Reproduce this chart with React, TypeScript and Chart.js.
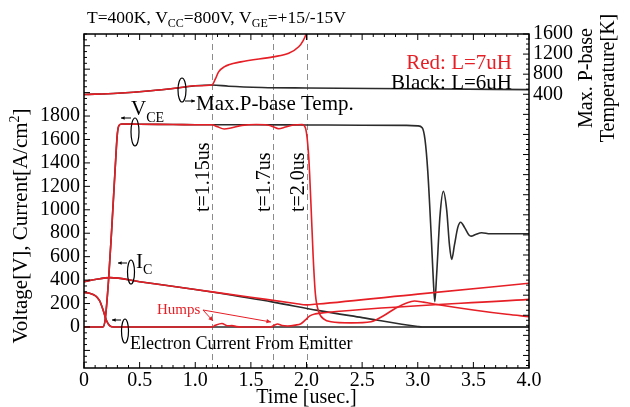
import React, { useEffect, useRef } from "react";
import { Chart, registerables } from "chart.js";

Chart.register(...registerables);

const SERIF = '"Liberation Serif", "Times New Roman", Times, serif';
const RED = "#e61e25";
const BLACK = "#2b2b2b";

// axis ticks
const xTicks = [0, 0.5, 1.0, 1.5, 2.0, 2.5, 3.0, 3.5, 4.0];
const leftTicks = [0, 200, 400, 600, 800, 1000, 1200, 1400, 1600, 1800];
const rightTicks = [400, 800, 1200, 1600];
const markerTimes = [1.15, 1.7, 2.0];
const markerLabels = ["t=1.15us", "t=1.7us", "t=2.0us"];

// Red (L=7uH) collector-emitter voltage
const tRedVce = [0, 0.17, 0.19, 0.22, 0.25, 0.28, 0.3, 0.315, 0.34, 0.5, 0.8, 1.0, 1.15, 1.2, 1.26, 1.32, 1.42, 1.55, 1.65, 1.7, 1.75, 1.81, 1.88, 1.96, 1.99, 2.02, 2.04, 2.06, 2.08, 2.11, 2.16, 2.22, 2.4, 2.58, 2.7, 2.8, 2.9, 2.97, 3.05, 3.2, 3.5, 3.8, 4.0];
const redVce = [0, 0, 60, 390, 850, 1350, 1650, 1720, 1732, 1730, 1728, 1726, 1725, 1708, 1690, 1698, 1720, 1728, 1724, 1708, 1692, 1706, 1724, 1728, 1700, 1450, 1050, 600, 280, 130, 65, 45, 35, 45, 100, 160, 205, 222, 212, 188, 145, 108, 88];

// Black (L=6uH) collector-emitter voltage
const tBlkVce = [0, 0.17, 0.19, 0.22, 0.25, 0.28, 0.3, 0.315, 0.34, 0.5, 0.8, 1.0, 1.15, 1.5, 2.0, 2.5, 2.9, 3.0, 3.04, 3.065, 3.09, 3.12, 3.14, 3.153, 3.17, 3.2, 3.23, 3.26, 3.285, 3.305, 3.33, 3.36, 3.386, 3.42, 3.46, 3.48, 3.52, 3.575, 3.65, 4.0];
const blkVce = [0, 0, 60, 390, 850, 1350, 1650, 1720, 1732, 1730, 1728, 1726, 1725, 1726, 1724, 1722, 1720, 1716, 1700, 1600, 1330, 800, 400, 216, 450, 950, 1157, 1000, 700, 577, 700, 850, 894, 850, 785, 775, 790, 804, 795, 795];

// Collector current
const tRedIc = [0, 0.1, 0.235, 0.5, 1.0, 1.5, 1.9, 2.0, 2.1, 3.0, 4.0];
const redIc = [387, 405, 421, 386, 320, 254, 201, 189, 196, 280, 373];
const tBlkIc = [0, 0.1, 0.235, 0.5, 1.0, 1.15, 1.7, 2.1, 2.5, 3.0, 3.04, 4.0];
const blkIc = [387, 405, 421, 386, 320, 298, 212, 142, 80, 4, 0, 0];

// Electron current from emitter
const tRedEc = [0, 0.05, 0.1, 0.14, 0.17, 0.2, 0.23, 0.27, 1.15, 1.18, 1.24, 1.29, 1.33, 1.37, 1.42, 1.68, 1.71, 1.74, 1.78, 1.83, 1.9, 1.95, 1.99, 2.03, 2.08, 2.16, 4.0];
const redEc = [295, 288, 268, 225, 150, 60, 12, 0, 0, 14, 30, 10, 12, 3, 0, 0, 14, 26, 12, 8, 16, 28, 60, 95, 112, 122, 236];
const tBlkEc = [0, 0.05, 0.1, 0.14, 0.17, 0.2, 0.23, 0.27, 4.0];
const blkEc = [295, 288, 268, 225, 150, 60, 12, 0, 0];

// Max. P-base temperature [K]
const tRedTemp = [0, 0.3, 0.6, 0.87, 1.0, 1.15, 1.18, 1.21, 1.26, 1.41, 1.7, 1.84, 1.93, 1.97, 2.0, 2.02];
const redTemp = [395, 420, 470, 535, 570, 585, 700, 845, 945, 1045, 1145, 1215, 1345, 1470, 1620, 1800];
const tBlkTemp = [0, 0.3, 0.6, 0.87, 1.0, 1.15, 1.3, 1.6, 2.0, 3.0, 4.0];
const blkTemp = [395, 420, 470, 535, 570, 585, 560, 535, 525, 510, 492];

const pts = (t: number[], v: number[]) => t.map((x, i) => ({ x, y: v[i] }));

type Part = [string, number, number];

function rich(ctx: CanvasRenderingContext2D, x: number, y: number, parts: Part[], color: string, align = "left") {
  let w = 0;
  for (const [t, s] of parts) {
    ctx.font = `${s}px ${SERIF}`;
    w += ctx.measureText(t).width;
  }
  let cx = align === "right" ? x - w : align === "center" ? x - w / 2 : x;
  ctx.fillStyle = color;
  ctx.textAlign = "left";
  ctx.textBaseline = "alphabetic";
  for (const [t, s, dy] of parts) {
    ctx.font = `${s}px ${SERIF}`;
    ctx.fillText(t, cx, y + dy);
    cx += ctx.measureText(t).width;
  }
}

function vrich(ctx: CanvasRenderingContext2D, x: number, y: number, parts: Part[], color: string, align = "left") {
  ctx.save();
  ctx.translate(x, y);
  ctx.rotate(-Math.PI / 2);
  rich(ctx, 0, 0, parts, color, align);
  ctx.restore();
}

function arrow(ctx: CanvasRenderingContext2D, x1: number, y1: number, x2: number, y2: number, color: string, head = 4) {
  ctx.strokeStyle = color;
  ctx.fillStyle = color;
  ctx.lineWidth = 1;
  ctx.beginPath();
  ctx.moveTo(x1, y1);
  ctx.lineTo(x2, y2);
  ctx.stroke();
  const a = Math.atan2(y2 - y1, x2 - x1);
  ctx.beginPath();
  ctx.moveTo(x2, y2);
  ctx.lineTo(x2 - head * Math.cos(a - 0.45), y2 - head * Math.sin(a - 0.45));
  ctx.lineTo(x2 - head * Math.cos(a + 0.45), y2 - head * Math.sin(a + 0.45));
  ctx.closePath();
  ctx.fill();
}

function loop(ctx: CanvasRenderingContext2D, cx: number, cy: number, rx: number, ry: number) {
  ctx.strokeStyle = "#000";
  ctx.lineWidth = 1.2;
  ctx.beginPath();
  ctx.ellipse(cx, cy, rx, ry, 0, 0, Math.PI * 2);
  ctx.stroke();
}

const annotPlugin = {
  id: "annot",
  beforeDatasetsDraw(chart: any) {
    const ctx = chart.ctx as CanvasRenderingContext2D;
    const { top, bottom } = chart.chartArea;
    const xs = chart.scales.x;
    ctx.save();
    ctx.strokeStyle = "#8c8c8c";
    ctx.lineWidth = 1;
    ctx.setLineDash([6, 4]);
    for (const t of markerTimes) {
      const px = Math.round(xs.getPixelForValue(t)) + 0.5;
      ctx.beginPath();
      ctx.moveTo(px, top);
      ctx.lineTo(px, bottom);
      ctx.stroke();
    }
    ctx.restore();
  },
  afterDraw(chart: any) {
    const ctx = chart.ctx as CanvasRenderingContext2D;
    const { left, right, top, bottom } = chart.chartArea;
    const xs = chart.scales.x;
    const yl = chart.scales.y;
    const yr = chart.scales.y2;
    ctx.save();
    // frame
    ctx.strokeStyle = "#000";
    ctx.lineWidth = 1.5;
    ctx.strokeRect(left, top, right - left, bottom - top);
    // inward ticks
    ctx.lineWidth = 1;
    ctx.beginPath();
    for (let i = 0; i <= 40; i++) {
      const px = xs.getPixelForValue(i * 0.1);
      const len = i % 5 === 0 ? 6 : 3;
      ctx.moveTo(px, bottom);
      ctx.lineTo(px, bottom - len);
      ctx.moveTo(px, top);
      ctx.lineTo(px, top + len);
    }
    for (let v = -300; v <= 2500; v += 50) {
      const py = yl.getPixelForValue(v);
      const len = v % 200 === 0 ? 6 : 3;
      ctx.moveTo(left, py);
      ctx.lineTo(left + len, py);
    }
    for (let v = -5000; v <= 1600; v += 100) {
      const py = yr.getPixelForValue(v);
      const len = v % 400 === 0 ? 6 : 3;
      ctx.moveTo(right, py);
      ctx.lineTo(right - len, py);
    }
    ctx.stroke();

    // title
    rich(ctx, 87, 23, [["T=400K, V", 17.5, 0], ["CC", 12, 4], ["=800V, V", 17.5, 0], ["GE", 12, 4], ["=+15/-15V", 17.5, 0]], "#000");
    // legend text
    rich(ctx, 512, 69, [["Red: L=7uH", 21, 0]], RED, "right");
    rich(ctx, 512, 89, [["Black: L=6uH", 21, 0]], "#000", "right");

    // axis titles
    rich(ctx, (left + right) / 2, 403, [["Time [usec.]", 20, 0]], "#000", "center");
    vrich(ctx, 27, 226, [["Voltage[V], Current[A/cm", 21, 0], ["2", 14, -8], ["]", 21, 0]], "#000", "center");
    vrich(ctx, 592, 78, [["Max. P-base", 20, 0]], "#000", "center");
    vrich(ctx, 614, 78, [["Temperature[K]", 20, 0]], "#000", "center");

    // curve labels
    rich(ctx, 196, 110, [["Max.P-base Temp.", 21, 0]], "#000");
    loop(ctx, 182, 90, 4, 12);
    arrow(ctx, 185, 101, 195, 101, "#000", 4);

    rich(ctx, 131, 115, [["V", 21, 0], ["CE", 14, 7]], "#000");
    loop(ctx, 135, 132, 4, 14);
    arrow(ctx, 131, 118, 121, 118, "#000", 4);

    rich(ctx, 136, 268, [["I", 21, 0], ["C", 14, 6]], "#000");
    loop(ctx, 131, 272, 3.5, 12);
    arrow(ctx, 127, 263, 118, 263, "#000", 4);

    rich(ctx, 130, 349, [["Electron Current From Emitter", 18, 0]], "#000");
    loop(ctx, 125, 331, 3.5, 12);
    arrow(ctx, 121, 320, 112, 320, "#000", 4);

    // humps
    rich(ctx, 157, 314, [["Humps", 15, 0]], RED);
    arrow(ctx, 203, 310, 213, 321, RED, 5);
    arrow(ctx, 203, 310, 271, 322, RED, 5);

    // vertical time markers
    markerTimes.forEach((t, i) => {
      const px = xs.getPixelForValue(t);
      vrich(ctx, px - 3, 212, [[markerLabels[i], 20, 0]], "#000", "left");
    });
    ctx.restore();
  },
};

export default function App() {
  const ref = useRef<HTMLCanvasElement>(null);
  useEffect(() => {
    const canvas = ref.current!;
    const ds = (label: string, data: any[], color: string, axis: string) => ({
      label,
      data,
      borderColor: color,
      backgroundColor: color,
      borderWidth: 1.6,
      pointRadius: 0,
      fill: false,
      cubicInterpolationMode: "monotone" as const,
      yAxisID: axis,
    });
    const tickFont = { family: SERIF, size: 20 };
    const plain = (v: any) => String(Number(v));
    const chart = new Chart(canvas, {
      type: "line",
      data: {
        datasets: [
          ds("Red VCE", pts(tRedVce, redVce), RED, "y"),
          ds("Red IC", pts(tRedIc, redIc), RED, "y"),
          ds("Red Electron Current", pts(tRedEc, redEc), RED, "y"),
          ds("Red Temp", pts(tRedTemp, redTemp), RED, "y2"),
          ds("Black VCE", pts(tBlkVce, blkVce), BLACK, "y"),
          ds("Black IC", pts(tBlkIc, blkIc), BLACK, "y"),
          ds("Black Electron Current", pts(tBlkEc, blkEc), BLACK, "y"),
          ds("Black Temp", pts(tBlkTemp, blkTemp), BLACK, "y2"),
        ],
      },
      options: {
        animation: false,
        responsive: false,
        devicePixelRatio: 1,
        layout: { padding: { top: 34, left: 0, right: 0, bottom: 0 } },
        plugins: { legend: { display: false }, tooltip: { enabled: false }, title: { display: false } },
        scales: {
          x: {
            type: "linear",
            min: 0,
            max: 4,
            afterBuildTicks: (s: any) => {
              s.ticks = xTicks.map((v) => ({ value: v }));
            },
            afterFit: (s: any) => {
              s.height = 39;
            },
            grid: { display: false, drawTicks: false },
            border: { display: false },
            ticks: {
              font: tickFont,
              color: "#000",
              padding: 1,
              maxRotation: 0,
              autoSkip: false,
              callback: (v: any) => (Number(v) === 0 ? "0" : Number(v).toFixed(1)),
            },
          },
          y: {
            type: "linear",
            position: "left",
            min: -350,
            max: 2500,
            afterBuildTicks: (s: any) => {
              s.ticks = leftTicks.map((v) => ({ value: v }));
            },
            afterFit: (s: any) => {
              s.width = 84;
            },
            grid: { display: false, drawTicks: false },
            border: { display: false },
            ticks: { font: tickFont, color: "#000", padding: 4, autoSkip: false, callback: plain },
          },
          y2: {
            type: "linear",
            position: "right",
            min: -5050,
            max: 1600,
            afterBuildTicks: (s: any) => {
              s.ticks = rightTicks.map((v) => ({ value: v }));
            },
            afterFit: (s: any) => {
              s.width = 101;
            },
            grid: { display: false, drawTicks: false },
            border: { display: false },
            ticks: { font: tickFont, color: "#000", padding: 4, autoSkip: false, callback: plain },
          },
        },
      },
      plugins: [annotPlugin],
    } as any);
    return () => chart.destroy();
  }, []);
  return (
    <div style={{ position: "absolute", left: 0, top: 0, width: 630, height: 407, background: "#fff" }}>
      <canvas ref={ref} width={630} height={407} style={{ display: "block" }} />
    </div>
  );
}
